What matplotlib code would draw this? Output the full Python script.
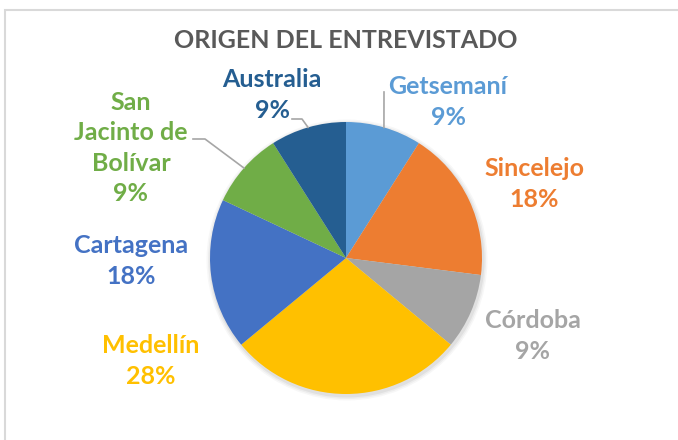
import numpy as np
import matplotlib
matplotlib.use('Agg')
import matplotlib.pyplot as plt
from matplotlib.patches import Rectangle, Circle

# data
origins = ['Getsemaní', 'Sincelejo', 'Córdoba', 'Medellín', 'Cartagena',
           'San\nJacinto de\nBolívar', 'Australia']
shares = [9, 18, 9, 28, 18, 9, 9]
colors = ['#5B9BD5', '#ED7D31', '#A5A5A5', '#FFC000', '#4472C4', '#70AD47', '#255E91']
title = 'ORIGEN DEL ENTREVISTADO'

plt.rcParams['font.family'] = ['Lato', 'DejaVu Sans']

W, H = 678, 440
fig = plt.figure(figsize=(W / 100, H / 100), dpi=100)
ax = fig.add_axes([0, 0, 1, 1])

# pie placed in pixel units (y measured from bottom)
cx, cy, r = 346, H - 258, 136

# faint shadow under the pie
for k, a in enumerate([0.05, 0.04, 0.03]):
    ax.add_patch(Circle((cx + 1, cy - 2), r + 1.5 + k * 1.5, color='black', alpha=a, lw=0, zorder=0))

wedges, _ = ax.pie(shares, colors=colors, startangle=90, counterclock=False,
                   center=(cx, cy), radius=r, wedgeprops=dict(linewidth=0))

# label centres (pixels, from top) and which ones get a leader line
label_pos = [(448, 102), (534, 184), (533, 336), (151, 361), (131, 261), (131, 148), (272, 95)]
leaders = {0: [(384, 92)], 5: [(193, 139), (205, 139)], 6: [(292, 119), (302, 119)]}

for i, (name, val) in enumerate(zip(origins, shares)):
    lx, ly = label_pos[i]
    ax.text(lx, H - ly, f'{name}\n{val}%', ha='center', va='center', color=colors[i],
            fontsize=18, fontweight='bold', linespacing=1.4, zorder=5)
    if i in leaders:
        w = wedges[i]
        mid = np.deg2rad((w.theta1 + w.theta2) / 2)
        ex, ey = cx + r * np.cos(mid), cy + r * np.sin(mid)
        pts = [(x, H - y) for x, y in leaders[i]] + [(ex, ey)]
        ax.plot([p[0] for p in pts], [p[1] for p in pts], color='#A6A6A6', lw=1.2, zorder=4)

ax.text(346, H - 40, title, ha='center', va='center', color='#595959',
        fontsize=18, fontweight='bold')

# chart area border (only top/left visible in the crop)
ax.add_patch(Rectangle((5, -20), W + 20, H - 10 + 20, fill=False, edgecolor='#D9D9D9', lw=1.5, zorder=6))

ax.set_xlim(0, W)
ax.set_ylim(0, H)
ax.axis('off')

plt.savefig('out.png', dpi=100)
plt.close(fig)
